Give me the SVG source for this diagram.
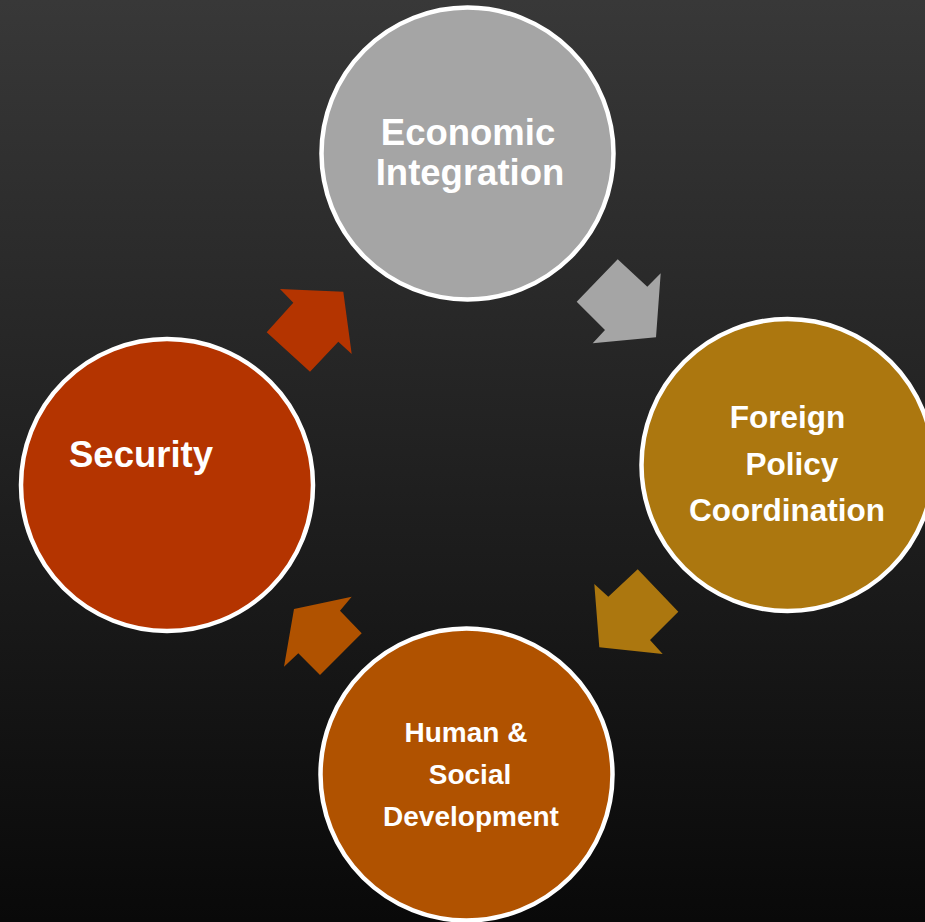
<svg xmlns="http://www.w3.org/2000/svg" width="925" height="922" viewBox="0 0 925 922">
<defs>
<linearGradient id="bg" x1="0" y1="0" x2="0" y2="1">
<stop offset="0" stop-color="#383838"/>
<stop offset="1" stop-color="#090909"/>
</linearGradient>
<style>
.node{stroke:#FFFFFF;stroke-width:4.5}
.t{font-family:"Liberation Sans",Arial,sans-serif;font-weight:bold;fill:#FFFFFF;text-anchor:middle}
</style>
</defs>
<rect width="925" height="922" fill="url(#bg)"/>
<g id="connectors">
<polygon fill="#A5A5A5" points="617.7,259.3 647.3,286.7 660.7,273.3 656,337.3 592.7,343.3 605,330 576.7,301.7"/>
<polygon fill="#AC770F" points="637.7,569.3 678.3,611.7 650,640 662.7,654 599.3,647.3 594.3,584 608.3,596.7"/>
<polygon fill="#B05200" points="351.7,596.7 340,610.7 361.7,633.3 320,675 298.3,653.3 284,666.7 294,609"/>
<polygon fill="#B43400" points="280,289 343.3,291.7 351.7,354 338.3,341.7 310,371.7 266.7,332.3 293.3,302.7"/>
</g>
<g id="economic">
<circle class="node" cx="467.5" cy="153.5" r="146" fill="#A5A5A5"/>
<text class="t" font-size="36.5" x="468" y="145">Economic</text>
<text class="t" font-size="36.5" x="470" y="185">Integration</text>
</g>
<g id="foreign">
<circle class="node" cx="787.5" cy="465" r="146" fill="#AC770F"/>
<text class="t" font-size="31.5" x="787.5" y="428">Foreign</text>
<text class="t" font-size="31.5" x="792" y="475">Policy</text>
<text class="t" font-size="31.5" x="787" y="521">Coordination</text>
</g>
<g id="human">
<circle class="node" cx="466.5" cy="774.5" r="146" fill="#B05200"/>
<text class="t" font-size="28" x="466" y="742">Human &amp;</text>
<text class="t" font-size="28" x="470" y="784">Social</text>
<text class="t" font-size="28" x="471" y="826">Development</text>
</g>
<g id="security">
<circle class="node" cx="167" cy="485" r="146" fill="#B43400"/>
<text class="t" font-size="36.5" x="69" y="467" style="text-anchor:start">Security</text>
</g>
</svg>
